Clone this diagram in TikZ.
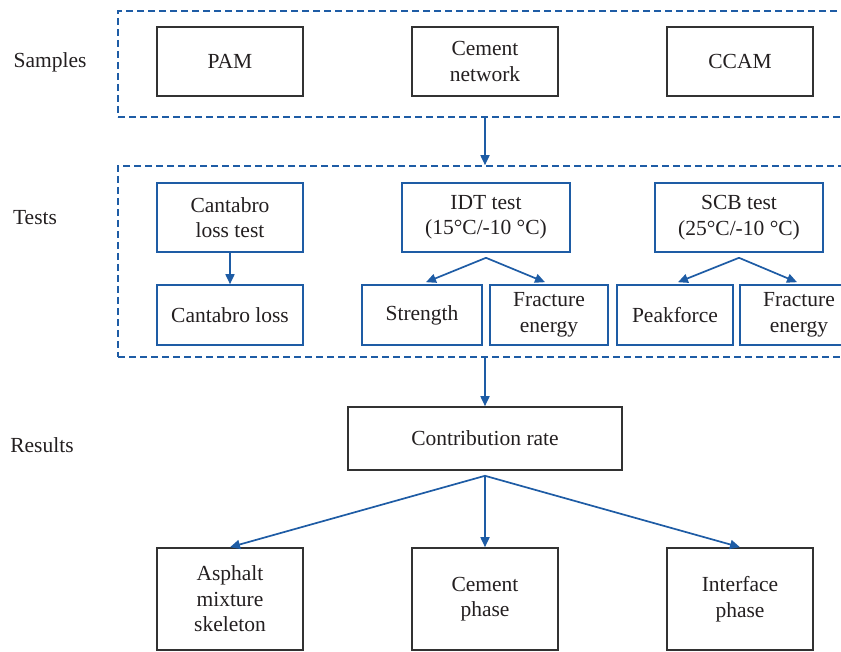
\documentclass[tikz,border=0pt]{standalone}
\usepackage{fontspec}
\setmainfont{Liberation Serif}
\usetikzlibrary{arrows.meta,calc}
\definecolor{lineblue}{RGB}{30,92,165}
\definecolor{boxgray}{RGB}{50,50,50}
\definecolor{txt}{RGB}{35,31,32}
\begin{document}
\begin{tikzpicture}[x=1pt,y=-1pt,
  every node/.style={text=txt,font=\fontsize{21.5}{25.5}\selectfont,align=center,inner sep=0pt},
  blackbox/.style={draw=boxgray,line width=1.6pt},
  bluebox/.style={draw=lineblue,line width=1.6pt},
  groupbox/.style={draw=lineblue,line width=1.6pt,dash pattern=on 7pt off 4pt},
  link/.style={draw=lineblue,line width=1.7pt,-{Triangle[length=10pt,width=9pt]}}]
\clip (0,0) rectangle (841,652);
\useasboundingbox (0,0) rectangle (841,652);
% group boxes
\node[groupbox,minimum width=730pt,minimum height=106pt] (sgroup) at (483,64) {};
\node[groupbox,minimum width=730pt,minimum height=191pt] (tgroup) at (483,261.5) {};
% row labels
\node (lsamples) at (50,62) {Samples};
\node (ltests) at (35,218) {Tests};
\node (lresults) at (42,445) {Results};
% samples
\node[blackbox,minimum width=146pt,minimum height=69pt] (pam) at (230,61.5) {PAM};
\node[blackbox,minimum width=146pt,minimum height=69pt] (cn) at (485,61.5) {Cement\\network};
\node[blackbox,minimum width=146pt,minimum height=69pt] (ccam) at (740,61.5) {CCAM};
% tests
\node[bluebox,minimum width=146pt,minimum height=69pt] (clt) at (230,217.5) {Cantabro\\loss test};
\node[bluebox,minimum width=168pt,minimum height=69pt] (idt) at (486,217.5) {IDT test\\(15°C/-10 °C)};
\node[bluebox,minimum width=168pt,minimum height=69pt] (scb) at (739,217.5) {SCB test\\(25°C/-10 °C)};
\node[bluebox,minimum width=146pt,minimum height=60pt] (cl) at (230,315) {Cantabro loss};
\node[bluebox,minimum width=120pt,minimum height=60pt] (str) at (422,315) {Strength};
\node[bluebox,minimum width=118pt,minimum height=60pt] (fe1) at (549,315) {Fracture\\energy};
\node[bluebox,minimum width=116pt,minimum height=60pt] (pf) at (675,315) {Peakforce};
\node[bluebox,minimum width=118pt,minimum height=60pt] (fe2) at (799,315) {Fracture\\energy};
% results
\node[blackbox,minimum width=274pt,minimum height=63pt] (cr) at (485,438.5) {Contribution rate};
\node[blackbox,minimum width=146pt,minimum height=102pt] (ams) at (230,599) {Asphalt\\mixture\\skeleton};
\node[blackbox,minimum width=146pt,minimum height=102pt] (cp) at (485,599) {Cement\\phase};
\node[blackbox,minimum width=146pt,minimum height=102pt] (ip) at (740,599) {Interface\\phase};
% connectors
\draw[link] (sgroup.south -| cn) -- (tgroup.north -| cn);
\draw[link] (clt.south) -- (cl.north);
\coordinate (idtfork) at ($(idt.south)+(0,5)$);
\draw[link] (idtfork) -- ($(str.north)+(4,-2)$);
\draw[link] (idtfork) -- ($(fe1.north)+(-4,-2)$);
\coordinate (scbfork) at ($(scb.south)+(0,5)$);
\draw[link] (scbfork) -- ($(pf.north)+(3,-2)$);
\draw[link] (scbfork) -- ($(fe2.north)+(-2,-2)$);
\draw[link] (tgroup.south -| cr) -- (cr.north);
\coordinate (crfork) at ($(cr.south)+(0,5)$);
\draw[link] (crfork) -- (ams.north);
\draw[link] (crfork) -- (cp.north);
\draw[link] (crfork) -- (ip.north);
\end{tikzpicture}
\end{document}
